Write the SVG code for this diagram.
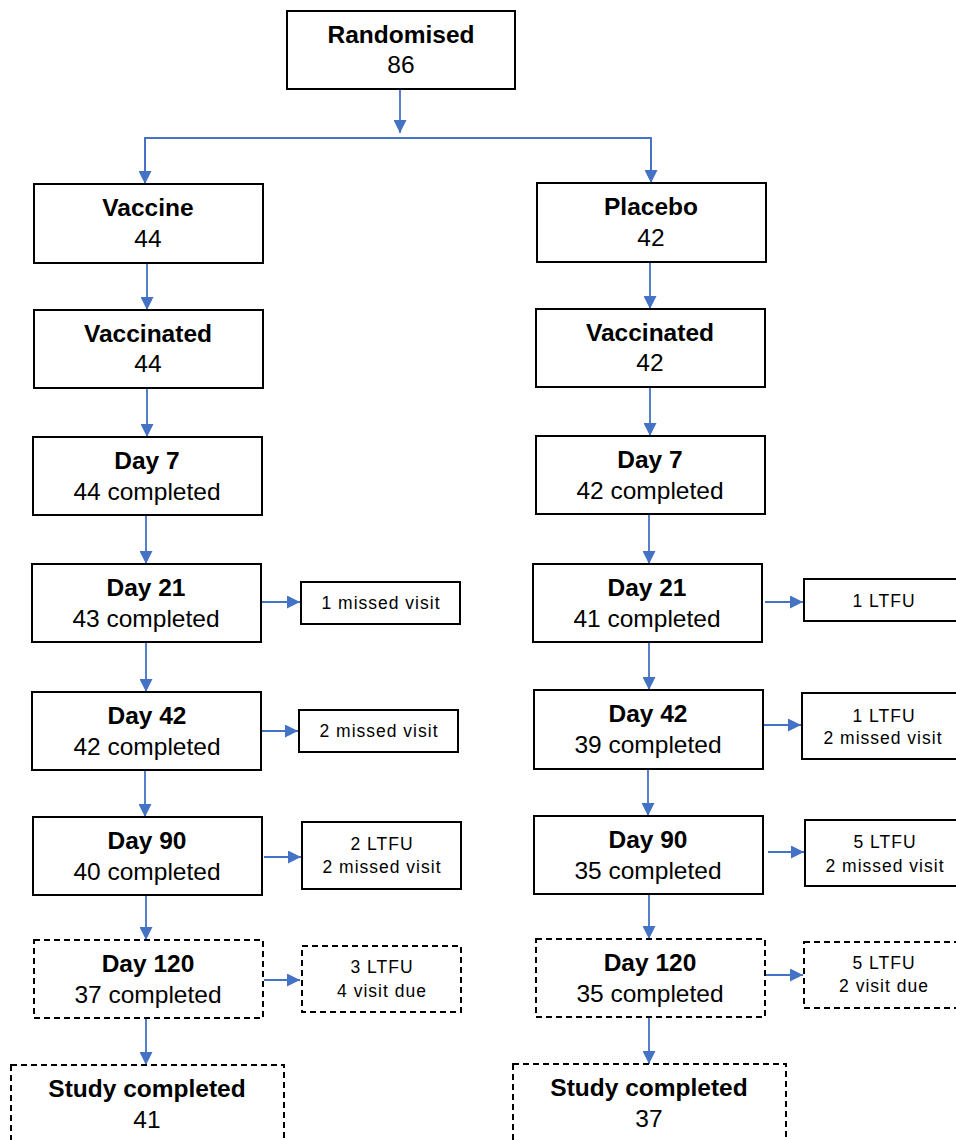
<svg xmlns="http://www.w3.org/2000/svg" width="956" height="1140" viewBox="0 0 956 1140">
<defs>
<marker id="ah" markerUnits="userSpaceOnUse" markerWidth="13" markerHeight="13" refX="13" refY="6.5" orient="auto"><path d="M0,0 L13,6.5 L0,13 z" fill="#4472C4"/></marker>
<style>
.b{fill:#fff;stroke:#000;stroke-width:2}
.d{fill:#fff;stroke:#000;stroke-width:2;stroke-dasharray:6 4}
.t{font-family:"Liberation Sans",Arial,sans-serif;font-size:24.5px;font-weight:bold;text-anchor:middle;fill:#000}
.n{font-family:"Liberation Sans",Arial,sans-serif;font-size:24.5px;text-anchor:middle;fill:#000}
.s{font-family:"Liberation Sans",Arial,sans-serif;font-size:17.5px;letter-spacing:1px;text-anchor:middle;fill:#000}
.c{fill:none;stroke:#4472C4;stroke-width:1.8}
.a{fill:none;stroke:#4472C4;stroke-width:1.8;marker-end:url(#ah)}
</style>
</defs>
<rect width="956" height="1140" fill="#fff"/>
<g id="connectors">
<line class="a" x1="400" y1="89" x2="400" y2="133"/>
<polyline class="c" points="145,184 145,138 651,138 651,183"/>
<line class="a" x1="145" y1="138" x2="145" y2="184"/>
<line class="a" x1="651" y1="138" x2="651" y2="183"/>
<line class="a" x1="147" y1="263" x2="147" y2="310"/>
<line class="a" x1="147" y1="388" x2="147" y2="437"/>
<line class="a" x1="146" y1="515" x2="146" y2="564"/>
<line class="a" x1="146" y1="642" x2="146" y2="692"/>
<line class="a" x1="145" y1="770" x2="145" y2="817"/>
<line class="a" x1="146" y1="895" x2="146" y2="940"/>
<line class="a" x1="146" y1="1018" x2="146" y2="1065"/>
<line class="a" x1="650" y1="262" x2="650" y2="309"/>
<line class="a" x1="650" y1="387" x2="650" y2="436"/>
<line class="a" x1="649" y1="514" x2="649" y2="564"/>
<line class="a" x1="649" y1="642" x2="649" y2="690"/>
<line class="a" x1="648" y1="769" x2="648" y2="816"/>
<line class="a" x1="649" y1="894" x2="649" y2="939"/>
<line class="a" x1="649" y1="1017" x2="649" y2="1064"/>
<line class="a" x1="262" y1="602" x2="300" y2="602"/>
<line class="a" x1="262" y1="731" x2="298" y2="731"/>
<line class="a" x1="264" y1="857" x2="301" y2="857"/>
<line class="a" x1="264" y1="980" x2="300" y2="980"/>
<line class="a" x1="765" y1="602" x2="803" y2="602"/>
<line class="a" x1="764" y1="725" x2="801" y2="725"/>
<line class="a" x1="768" y1="852" x2="804" y2="852"/>
<line class="a" x1="766" y1="975" x2="803" y2="975"/>
</g>
<g id="randomised"><rect class="b" x="287" y="11" width="228" height="78"/><text class="t" x="401" y="43">Randomised</text><text class="n" x="401" y="73">86</text></g>
<g id="vaccine"><rect class="b" x="34" y="184" width="229" height="79"/><text class="t" x="148" y="216">Vaccine</text><text class="n" x="148" y="247">44</text></g>
<g id="placebo"><rect class="b" x="537" y="183" width="229" height="79"/><text class="t" x="651" y="215">Placebo</text><text class="n" x="651" y="246">42</text></g>
<g id="vaccinated-v"><rect class="b" x="34" y="310" width="229" height="78"/><text class="t" x="148" y="342">Vaccinated</text><text class="n" x="148" y="372">44</text></g>
<g id="vaccinated-p"><rect class="b" x="536" y="309" width="229" height="78"/><text class="t" x="650" y="341">Vaccinated</text><text class="n" x="650" y="371">42</text></g>
<g id="day7-v"><rect class="b" x="33" y="437" width="229" height="78"/><text class="t" x="147" y="469">Day 7</text><text class="n" x="147" y="500">44 completed</text></g>
<g id="day7-p"><rect class="b" x="536" y="436" width="229" height="78"/><text class="t" x="650" y="468">Day 7</text><text class="n" x="650" y="499">42 completed</text></g>
<g id="day21-v"><rect class="b" x="32" y="564" width="229" height="78"/><text class="t" x="146" y="596">Day 21</text><text class="n" x="146" y="627">43 completed</text></g>
<g id="day21-p"><rect class="b" x="533" y="564" width="229" height="78"/><text class="t" x="647" y="596">Day 21</text><text class="n" x="647" y="627">41 completed</text></g>
<g id="day42-v"><rect class="b" x="32" y="692" width="229" height="78"/><text class="t" x="147" y="724">Day 42</text><text class="n" x="147" y="755">42 completed</text></g>
<g id="day42-p"><rect class="b" x="534" y="690" width="229" height="79"/><text class="t" x="648" y="722">Day 42</text><text class="n" x="648" y="753">39 completed</text></g>
<g id="day90-v"><rect class="b" x="33" y="817" width="229" height="78"/><text class="t" x="147" y="849">Day 90</text><text class="n" x="147" y="880">40 completed</text></g>
<g id="day90-p"><rect class="b" x="534" y="816" width="229" height="78"/><text class="t" x="648" y="848">Day 90</text><text class="n" x="648" y="879">35 completed</text></g>
<g id="day120-v"><rect class="d" x="34" y="940" width="229" height="78"/><text class="t" x="148" y="972">Day 120</text><text class="n" x="148" y="1003">37 completed</text></g>
<g id="day120-p"><rect class="d" x="536" y="939" width="229" height="78"/><text class="t" x="650" y="971">Day 120</text><text class="n" x="650" y="1002">35 completed</text></g>
<g id="study-v"><rect class="d" x="11" y="1065" width="273" height="90"/><text class="t" x="147" y="1097">Study completed</text><text class="n" x="147" y="1128">41</text></g>
<g id="study-p"><rect class="d" x="513" y="1064" width="273" height="90"/><text class="t" x="649" y="1096">Study completed</text><text class="n" x="649" y="1127">37</text></g>
<g id="side-v21"><rect class="b" x="301" y="582" width="159" height="42"/><text class="s" x="381" y="609">1 missed visit</text></g>
<g id="side-v42"><rect class="b" x="299" y="710" width="159" height="42"/><text class="s" x="379" y="737">2 missed visit</text></g>
<g id="side-v90"><rect class="b" x="302" y="822" width="159" height="67"/><text class="s" x="382" y="850">2 LTFU</text><text class="s" x="382" y="873">2 missed visit</text></g>
<g id="side-v120"><rect class="d" x="302" y="946" width="159" height="66"/><text class="s" x="382" y="973">3 LTFU</text><text class="s" x="382" y="997">4 visit due</text></g>
<g id="side-p21"><rect class="b" x="804" y="579" width="160" height="42"/><text class="s" x="884" y="607">1 LTFU</text></g>
<g id="side-p42"><rect class="b" x="802" y="693" width="162" height="66"/><text class="s" x="884" y="722">1 LTFU</text><text class="s" x="883" y="744">2 missed visit</text></g>
<g id="side-p90"><rect class="b" x="805" y="820" width="160" height="66"/><text class="s" x="885" y="848">5 LTFU</text><text class="s" x="885" y="872">2 missed visit</text></g>
<g id="side-p120"><rect class="d" x="804" y="942" width="160" height="66"/><text class="s" x="884" y="969">5 LTFU</text><text class="s" x="884" y="992">2 visit due</text></g>
</svg>
